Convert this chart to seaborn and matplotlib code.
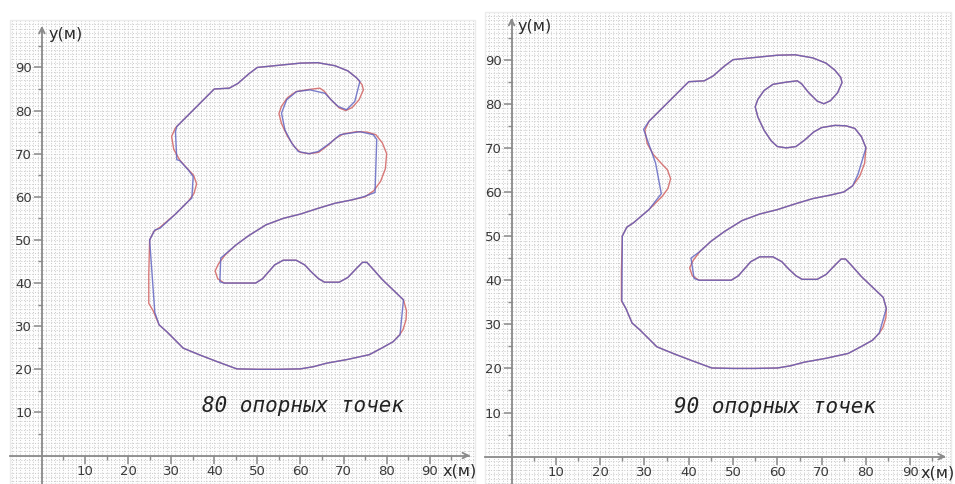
import matplotlib
matplotlib.use("Agg")
import matplotlib.pyplot as plt
import seaborn as sns
import numpy as np
from matplotlib.ticker import FixedLocator

sns.set_theme(style="white")
plt.rcParams["font.family"] = ["DejaVu Sans"]

# ---- data: the road (red) ----
road_x = [25.0, 26.0, 27.5, 31.0, 34.0, 35.3, 35.9, 35.2, 33.6, 32.0, 30.6, 30.1, 31.0, 33.0,
          36.5, 40.0, 43.5, 45.5, 48.0, 50.0, 55.0, 60.0, 64.0, 68.0, 71.0, 73.0, 74.3, 74.6,
          73.6, 72.0, 70.5, 69.0, 67.0, 65.5, 64.5, 62.0, 59.0, 57.0, 55.6, 55.0, 55.6, 57.0,
          58.6, 60.0, 62.0, 64.2, 66.2, 68.2, 70.0, 73.0, 75.5, 77.5, 79.0, 80.0, 79.7, 78.6,
          77.0, 75.0, 72.0, 68.0, 64.0, 60.0, 56.0, 52.0, 48.0, 45.0, 42.5, 41.0, 40.2, 40.8,
          42.3, 46.0, 49.6, 51.2, 52.6, 54.0, 56.0, 59.0, 61.0, 62.6, 64.2, 65.6, 69.0, 71.0,
          73.0, 74.4, 75.4, 76.6, 79.0, 81.5, 83.9, 84.6, 84.5, 83.8, 83.0, 81.5, 79.0, 76.0,
          71.0, 66.0, 63.0, 60.0, 55.0, 50.0, 45.2, 40.6, 36.7, 32.8, 30.5, 29.0, 27.2, 25.8,
          24.8, 24.8, 25.0]
road_y = [50.0, 52.0, 53.0, 56.0, 59.0, 60.8, 63.0, 65.0, 66.7, 68.5, 71.0, 74.0, 76.0, 78.0,
          81.5, 85.0, 85.2, 86.3, 88.5, 90.0, 90.5, 91.0, 91.1, 90.4, 89.2, 87.6, 86.0, 84.8,
          82.5, 80.7, 80.0, 80.6, 82.6, 84.5, 85.2, 84.9, 84.4, 83.0, 81.0, 79.3, 77.0, 74.0,
          71.6, 70.3, 70.0, 70.3, 71.8, 73.6, 74.6, 75.1, 75.0, 74.4, 72.5, 70.0, 66.5, 63.6,
          61.4, 60.0, 59.3, 58.5, 57.3, 56.0, 55.0, 53.5, 51.0, 48.8, 46.5, 44.5, 42.8, 41.0,
          40.0, 40.0, 40.0, 41.0, 42.6, 44.2, 45.3, 45.3, 44.2, 42.5, 41.0, 40.2, 40.2, 41.3,
          43.4, 44.8, 44.8, 43.5, 40.8, 38.4, 36.1, 33.6, 31.5, 29.2, 28.0, 26.4, 25.0, 23.4,
          22.3, 21.4, 20.6, 20.1, 20.0, 20.0, 20.1, 21.8, 23.3, 24.9, 27.2, 28.7, 30.3, 33.6,
          35.3, 42.0, 50.0]

# ---- data: approximation with 80 control points (blue, left) ----
approx80_x = [25.0, 26.2, 27.4, 31.0, 34.0, 34.8, 35.1, 34.0, 32.0, 31.3, 31.0, 31.3, 33.0,
              36.5, 40.0, 43.5, 45.5, 48.0, 50.0, 55.0, 60.0, 64.0, 68.0, 71.0, 73.0, 73.8,
              72.6, 70.7, 68.8, 67.0, 65.7, 62.2, 59.1, 56.8, 55.6, 56.4, 58.0, 59.5, 62.0,
              64.1, 66.8, 69.2, 73.8, 76.9, 77.7, 77.3, 74.6, 72.0, 68.0, 64.0, 60.0, 56.0,
              52.0, 48.0, 45.0, 41.5, 41.3, 42.3, 46.0, 49.6, 51.2, 52.6, 54.0, 56.0, 59.0,
              61.0, 62.6, 64.2, 65.6, 69.0, 71.0, 73.0, 74.4, 75.4, 76.6, 79.0, 81.5, 83.9,
              83.1, 81.5, 79.0, 76.0, 71.0, 66.0, 63.0, 60.0, 55.0, 50.0, 45.2, 40.6, 36.7,
              32.8, 30.5, 29.0, 27.2, 26.2, 25.0]
approx80_y = [50.0, 52.3, 52.7, 56.0, 59.0, 59.7, 64.7, 66.2, 68.4, 68.6, 75.1, 76.3, 78.0,
              81.5, 85.0, 85.2, 86.3, 88.5, 90.0, 90.5, 91.0, 91.1, 90.4, 89.2, 87.6, 86.8,
              82.1, 80.2, 80.9, 82.6, 84.0, 84.8, 84.4, 82.5, 79.4, 75.5, 72.4, 70.5, 70.0,
              70.5, 72.4, 74.4, 75.1, 74.4, 73.3, 61.0, 60.0, 59.3, 58.5, 57.3, 56.0, 55.0,
              53.5, 51.0, 48.8, 45.8, 40.3, 40.0, 40.0, 40.0, 41.0, 42.6, 44.2, 45.3, 45.3,
              44.2, 42.5, 41.0, 40.2, 40.2, 41.3, 43.4, 44.8, 44.8, 43.5, 40.8, 38.4, 36.1,
              28.0, 26.4, 25.0, 23.4, 22.3, 21.4, 20.6, 20.1, 20.0, 20.0, 20.1, 21.8, 23.3,
              24.9, 27.2, 28.7, 30.3, 33.2, 50.0]

# ---- data: approximation with 90 control points (blue, right) ----
approx90_x = [25.0, 26.0, 27.5, 31.0, 33.8, 32.5, 29.8, 31.0, 33.0, 36.5, 40.0, 43.5, 45.5,
              48.0, 50.0, 55.0, 60.0, 64.0, 68.0, 71.0, 73.0, 74.3, 74.6, 73.6, 72.0, 70.5,
              69.0, 67.0, 65.5, 64.5, 62.0, 59.0, 57.0, 55.6, 55.0, 55.6, 57.0, 58.6, 60.0,
              62.0, 64.2, 66.2, 68.2, 70.0, 73.0, 75.5, 77.5, 79.0, 80.0, 78.2, 77.0, 75.0,
              72.0, 68.0, 64.0, 60.0, 56.0, 52.0, 48.0, 45.0, 42.5, 40.5, 41.2, 42.3, 46.0,
              49.6, 51.2, 52.6, 54.0, 56.0, 59.0, 61.0, 62.6, 64.2, 65.6, 69.0, 71.0, 73.0,
              74.4, 75.4, 76.6, 79.0, 81.5, 83.9, 84.6, 83.0, 81.5, 79.0, 76.0, 71.0, 66.0,
              63.0, 60.0, 55.0, 50.0, 45.2, 40.6, 36.7, 32.8, 30.5, 29.0, 27.2, 25.8, 24.9,
              25.0]
approx90_y = [50.0, 52.0, 53.0, 56.0, 59.6, 66.6, 74.2, 76.0, 78.0, 81.5, 85.0, 85.2, 86.3,
              88.5, 90.0, 90.5, 91.0, 91.1, 90.4, 89.2, 87.6, 86.0, 84.8, 82.5, 80.7, 80.0,
              80.6, 82.6, 84.5, 85.2, 84.9, 84.4, 83.0, 81.0, 79.3, 77.0, 74.0, 71.6, 70.3,
              70.0, 70.3, 71.8, 73.6, 74.6, 75.1, 75.0, 74.4, 72.5, 70.0, 64.0, 61.4, 60.0,
              59.3, 58.5, 57.3, 56.0, 55.0, 53.5, 51.0, 48.8, 46.5, 45.0, 40.4, 40.0, 40.0,
              40.0, 41.0, 42.6, 44.2, 45.3, 45.3, 44.2, 42.5, 41.0, 40.2, 40.2, 41.3, 43.4,
              44.8, 44.8, 43.5, 40.8, 38.4, 36.1, 33.6, 28.0, 26.4, 25.0, 23.4, 22.3, 21.4,
              20.6, 20.1, 20.0, 20.0, 20.1, 21.8, 23.3, 24.9, 27.2, 28.7, 30.3, 33.6, 35.3,
              50.0]

tick_values = [10, 20, 30, 40, 50, 60, 70, 80, 90]
minor_values = [5, 15, 25, 35, 45, 55, 65, 75, 85, 95]
panel_labels = ["80 опорных точек", "90 опорных точек"]

AXIS_C = "#8a8a8a"
ROAD_C = "#d46a6a"
APPROX_C = "#5a5ec0"

fig = plt.figure(figsize=(9.55, 4.84), dpi=100)
fig.patch.set_facecolor("white")


def draw_panel(rect, xlim, ylim, ax_x, ax_y, label, text_pos, ylab_pos, xlab_pos):
    ax = fig.add_axes(rect)
    ax.set_xlim(*xlim)
    ax.set_ylim(*ylim)
    ax.set_facecolor("#fdfdfd")
    gx = np.arange(np.ceil(xlim[0]), xlim[1] + 0.01, 1.0)
    gy = np.arange(np.ceil(ylim[0]), ylim[1] + 0.01, 1.0)
    ax.vlines(gx, ylim[0], ylim[1], colors="#c9c9c9", linestyles=(0, (1, 1.8)),
              linewidth=0.7, zorder=0)
    ax.hlines(gy, xlim[0], xlim[1], colors="#c9c9c9", linestyles=(0, (1, 1.8)),
              linewidth=0.7, zorder=0)

    sns.lineplot(x=road_x, y=road_y, sort=False, estimator=None, color=ROAD_C,
                 linewidth=1.0, alpha=0.9, ax=ax, zorder=3)
    sns.lineplot(x=ax_x, y=ax_y, sort=False, estimator=None, color=APPROX_C,
                 linewidth=1.0, alpha=0.8, ax=ax, zorder=4)

    for s in ("top", "right"):
        ax.spines[s].set_visible(False)
    ax.spines["left"].set_position(("data", 0))
    ax.spines["bottom"].set_position(("data", 0))
    for s in ("left", "bottom"):
        ax.spines[s].set_color(AXIS_C)
        ax.spines[s].set_linewidth(1.3)
        ax.spines[s].set_zorder(5)
    ax.spines["left"].set_bounds(ylim[0], 99.0)
    ax.spines["bottom"].set_bounds(xlim[0], xlim[1] - 1.5)

    ax.xaxis.set_major_locator(FixedLocator(tick_values))
    ax.yaxis.set_major_locator(FixedLocator(tick_values))
    ax.xaxis.set_minor_locator(FixedLocator(minor_values))
    ax.yaxis.set_minor_locator(FixedLocator(minor_values))
    ax.tick_params(which="major", direction="out", length=5.5, width=1.1, color=AXIS_C,
                   labelsize=9.5, labelcolor="#3a3a3a", pad=1.5, left=True, bottom=True)
    ax.tick_params(which="minor", direction="out", length=3, width=1.0, color=AXIS_C,
                   left=True, bottom=True)
    ax.set_xlabel("")
    ax.set_ylabel("")

    ax.annotate("", xy=(0, ylim[1] - 0.7), xytext=(0, 97.5),
                arrowprops=dict(arrowstyle="->", color=AXIS_C, lw=1.3,
                                mutation_scale=10), zorder=6)
    ax.annotate("", xy=(xlim[1] - 0.5, 0), xytext=(xlim[1] - 3, 0),
                arrowprops=dict(arrowstyle="->", color=AXIS_C, lw=1.3,
                                mutation_scale=10), zorder=6)

    ax.text(ylab_pos[0], ylab_pos[1], "y(м)", fontsize=11.5, color="#2a2a2a",
            ha="left", va="center")
    ax.text(xlab_pos[0], xlab_pos[1], "x(м)", fontsize=11.5, color="#2a2a2a",
            ha="left", va="center")
    ax.text(text_pos[0], text_pos[1], label, family="DejaVu Sans Mono", style="italic",
            fontsize=15, color="#222222", ha="left", va="baseline", zorder=7)

    ax.add_patch(plt.Rectangle((0, 0), 1, 1, transform=ax.transAxes, fill=False,
                               edgecolor="#ececec", lw=1.0, clip_on=False, zorder=0.5))
    return ax


# left panel
draw_panel([10 / 955, 0.0, 465 / 955, 464 / 484], (-7.4, 100.5), (-6.6, 101.0),
           approx80_x, approx80_y, panel_labels[0], (37.2, 10.1), (1.6, 97.6), (93.0, -3.7))
# right panel
draw_panel([485 / 955, 0.0, 466 / 955, 472 / 484], (-6.0, 99.2), (-6.2, 100.8),
           approx90_x, approx90_y, panel_labels[1], (36.7, 9.9), (1.4, 97.6), (92.4, -3.6))

fig.savefig("out.png", dpi=100, facecolor="white")
